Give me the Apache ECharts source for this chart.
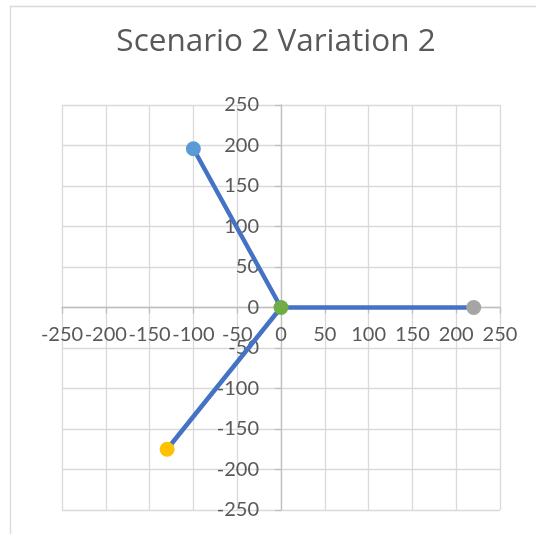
<!DOCTYPE html>
<html>
<head>
<meta charset="utf-8">
<script src="https://cdn.jsdelivr.net/npm/echarts@6/dist/echarts.min.js"></script>
<style>
html,body{margin:0;padding:0;background:#fff;}
#chart{width:536px;height:534px;}
</style>
</head>
<body>
<div id="chart"></div>
<script>
// Data
var pointNames = ['A', 'O', 'B', 'C'];
var pointX = [-100, 0, 220, -130];
var pointY = [196, 0, 0, -175];
var pointColors = ['#5B9BD5', '#70AD47', '#A5A5A5', '#FFC000'];
// line paths as lists of point indices
var pathA = [0, 1, 2];
var pathB = [1, 3];
var axisTicks = [-250, -200, -150, -100, -50, 0, 50, 100, 150, 200, 250];

function pathData(p) { return p.map(function (i) { return [pointX[i], pointY[i]]; }); }

var W = 536, H = 534;
var G = {left: 62, right: 36, top: 105, bottom: 24};
var gridW = W - G.left - G.right, gridH = H - G.top - G.bottom;

var chart = echarts.init(document.getElementById('chart'), null, {renderer: 'canvas'});
var font = 'Lato, "Open Sans", sans-serif';
var series = [
  {type: 'line', data: pathData(pathA), symbol: 'none', lineStyle: {color: '#4472C4', width: 4.5}, z: 2, animation: false},
  {type: 'line', data: pathData(pathB), symbol: 'none', lineStyle: {color: '#4472C4', width: 4.5}, z: 2, animation: false}
];
pointNames.forEach(function (n, i) {
  series.push({type: 'scatter', name: n, data: [[pointX[i], pointY[i]]], symbolSize: 15,
    itemStyle: {color: pointColors[i], opacity: 1}, z: 3, animation: false});
});

var axisCommon = {
  type: 'value', min: axisTicks[0], max: axisTicks[axisTicks.length - 1], interval: 50,
  axisLine: {onZero: false, lineStyle: {color: '#BFBFBF', width: 1.3}},
  axisTick: {show: true, length: 6, lineStyle: {color: '#BFBFBF', width: 1.3}},
  splitLine: {show: true, lineStyle: {color: '#D9D9D9', width: 1.3}},
  axisLabel: {color: '#595959', fontFamily: font, fontSize: 20, margin: 19,
    interval: 0, hideOverlap: false, showMinLabel: true, showMaxLabel: true}
};

chart.setOption({
  animation: false,
  title: {
    text: 'Scenario 2 Variation 2', left: 271, top: 21, textAlign: 'center',
    textStyle: {color: '#595959', fontFamily: '"Open Sans", sans-serif', fontSize: 31.5, fontWeight: 'normal'}
  },
  grid: {left: G.left, right: G.right, top: G.top, bottom: G.bottom, containLabel: false, outerBoundsMode: 'none'},
  xAxis: Object.assign({}, axisCommon, {
    position: 'bottom', offset: -gridH / 2,
    axisLabel: Object.assign({}, axisCommon.axisLabel, {margin: 17})
  }),
  yAxis: Object.assign({}, axisCommon, {
    position: 'left', offset: -gridW / 2,
    axisLabel: Object.assign({}, axisCommon.axisLabel, {margin: 22})
  }),
  graphic: [{
    type: 'rect', shape: {x: 10.5, y: 6.5, width: 700, height: 700},
    style: {fill: 'none', stroke: '#D9D9D9', lineWidth: 1.3}, silent: true, z: -10
  }],
  series: series
});
</script>
</body>
</html>
